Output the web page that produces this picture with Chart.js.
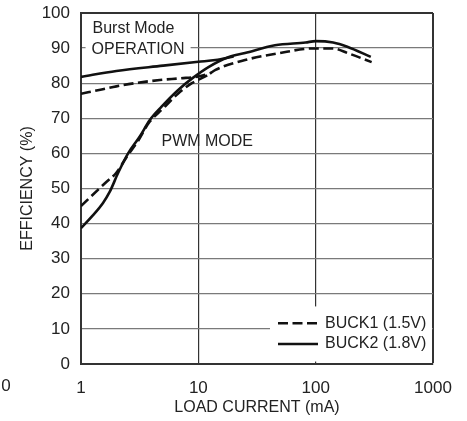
<!DOCTYPE html>
<html>
<head>
<meta charset="utf-8">
<script src="https://cdn.jsdelivr.net/npm/chart.js@4"></script>
<style>
html,body{margin:0;padding:0;background:#fff;}
#wrap{width:467px;height:421px;}
</style>
</head>
<body>
<div id="wrap"><canvas id="c" width="467" height="421"></canvas></div>
<script>
const xTicks = [1, 10, 100, 1000];
const yTicks = [0, 10, 20, 30, 40, 50, 60, 70, 80, 90, 100];

const buck1BurstX = [1, 1.5, 2, 3, 4.7, 7, 10, 13];
const buck1BurstY = [77, 78.2, 79.1, 80.1, 80.9, 81.4, 81.9, 83];
const buck1PwmX = [1, 1.6, 2, 2.45, 3.1, 3.75, 5, 6.7, 8.8, 12, 14, 25, 48, 95, 140, 190, 300];
const buck1PwmY = [45, 51.5, 54.5, 59, 63.8, 68.5, 72.8, 77, 80, 82.3, 83.8, 86.6, 88.5, 89.9, 89.9, 88.5, 86];
const buck2BurstX = [1, 2, 5, 10, 14, 20];
const buck2BurstY = [81.8, 83.5, 85, 86.1, 86.6, 87.6];
const buck2PwmX = [1, 1.25, 1.54, 1.76, 2.07, 2.52, 3.17, 3.86, 4.86, 6.7, 8.8, 12.2, 18, 25, 45, 82, 100, 141, 186, 295];
const buck2PwmY = [38.7, 42.2, 45.9, 49.1, 54.4, 60, 64.8, 69.5, 73.3, 78, 81.3, 84.6, 87.4, 88.6, 90.8, 91.6, 92, 91.6, 90.4, 87.5];

const legendLabels = ['BUCK1 (1.5V)', 'BUCK2 (1.8V)'];
const burstText = ['Burst Mode', 'OPERATION'];
const pwmText = 'PWM MODE';
const strayTick = '0';

const FONT = '"Liberation Sans", Arial, sans-serif';
const FS = 16;
const FT = 17;

function pts(xs, ys) { return xs.map((x, i) => ({x: x, y: ys[i]})); }

const dashedStyle = {borderColor: '#111', borderWidth: 2.6, borderDash: [10, 4.5], pointRadius: 0, fill: false, cubicInterpolationMode: 'monotone'};
const solidStyle = {borderColor: '#111', borderWidth: 2.6, pointRadius: 0, fill: false, cubicInterpolationMode: 'monotone'};

const overlay = {
  id: 'overlay',
  beforeDatasetsDraw(chart) {
    const ctx = chart.ctx, a = chart.chartArea;
    const xs = chart.scales.x, ys = chart.scales.y;
    ctx.save();
    ctx.font = FS + 'px ' + FONT;
    ctx.textBaseline = 'middle';
    ctx.textAlign = 'left';
    const bx = xs.getPixelForValue(1.23);
    const y1 = ys.getPixelForValue(95.6), y2 = ys.getPixelForValue(89.6);
    const w2 = ctx.measureText(burstText[1]).width;
    ctx.fillStyle = '#fff';
    ctx.fillRect(bx - 6, y2 - 9, w2 + 12, 18);
    ctx.fillStyle = '#222';
    ctx.fillText(burstText[0], bx + 1, y1);
    ctx.fillText(burstText[1], bx, y2);
    ctx.fillText(pwmText, xs.getPixelForValue(4.85), ys.getPixelForValue(63.3));
    ctx.restore();
  },
  afterDraw(chart) {
    const ctx = chart.ctx, a = chart.chartArea;
    const ys = chart.scales.y;
    ctx.save();
    const top = ys.getPixelForValue(16.4), bot = ys.getPixelForValue(0.7);
    const left = a.right - 163;
    ctx.fillStyle = '#fff';
    ctx.fillRect(left, top, a.right - left - 1, bot - top);
    ctx.font = FS + 'px ' + FONT;
    ctx.textBaseline = 'middle';
    ctx.textAlign = 'left';
    const rows = [ys.getPixelForValue(11.6), ys.getPixelForValue(5.7)];
    ctx.strokeStyle = '#111';
    ctx.lineWidth = 2.6;
    ctx.setLineDash([10, 4.5]);
    ctx.beginPath(); ctx.moveTo(left + 8, rows[0]); ctx.lineTo(left + 48, rows[0]); ctx.stroke();
    ctx.setLineDash([]);
    ctx.beginPath(); ctx.moveTo(left + 8, rows[1]); ctx.lineTo(left + 48, rows[1]); ctx.stroke();
    ctx.fillStyle = '#222';
    ctx.fillText(legendLabels[0], left + 55, rows[0]);
    ctx.fillText(legendLabels[1], left + 55, rows[1]);
    ctx.font = FT + 'px ' + FONT;
    ctx.textAlign = 'center';
    ctx.fillText(strayTick, 6, a.bottom + 22);
    ctx.restore();
  }
};

new Chart(document.getElementById('c'), {
  type: 'line',
  data: {
    datasets: [
      Object.assign({label: legendLabels[0] + ' burst', data: pts(buck1BurstX, buck1BurstY)}, dashedStyle),
      Object.assign({label: legendLabels[0], data: pts(buck1PwmX, buck1PwmY)}, dashedStyle),
      Object.assign({label: legendLabels[1] + ' burst', data: pts(buck2BurstX, buck2BurstY)}, solidStyle),
      Object.assign({label: legendLabels[1], data: pts(buck2PwmX, buck2PwmY)}, solidStyle)
    ]
  },
  options: {
    responsive: false,
    animation: false,
    devicePixelRatio: 1,
    layout: {padding: {top: 13, right: 34, left: 0, bottom: 0}},
    plugins: {legend: {display: false}, tooltip: {enabled: false}},
    scales: {
      x: {
        type: 'logarithmic',
        min: 1, max: 1000,
        afterBuildTicks(s) { s.ticks = xTicks.map(v => ({value: v})); },
        afterFit(s) { s.height = 57; s.paddingLeft = 0; s.paddingRight = 0; },
        ticks: {
          color: '#222', font: {family: FONT, size: FT}, padding: 14, maxRotation: 0,
          callback: v => String(v)
        },
        grid: {
          drawTicks: false,
          color: ctx => (ctx.index === 0 ? 'rgba(0,0,0,0)' : '#333'),
          lineWidth: ctx => (ctx.index === xTicks.length - 1 ? 2 : 1.2)
        },
        border: {display: true, color: '#333', width: 2},
        title: {display: true, text: 'LOAD CURRENT (mA)', color: '#222', font: {family: FONT, size: FS}, padding: {top: 0, bottom: 4}}
      },
      y: {
        min: 0, max: 100,
        afterBuildTicks(s) { s.ticks = yTicks.map(v => ({value: v})); },
        afterFit(s) { s.width = 81; s.paddingTop = 0; s.paddingBottom = 0; },
        ticks: {color: '#222', font: {family: FONT, size: FT}, padding: 11},
        grid: {
          drawTicks: false,
          color: ctx => (ctx.index === yTicks.length - 1 ? '#333' : (ctx.index === 0 ? 'rgba(0,0,0,0)' : '#7a7a7a')),
          lineWidth: ctx => (ctx.index === yTicks.length - 1 ? 2 : 1.2)
        },
        border: {display: true, color: '#333', width: 2},
        title: {display: true, text: 'EFFICIENCY (%)', color: '#222', font: {family: FONT, size: FS}, padding: {top: 18, bottom: 0}}
      }
    }
  },
  plugins: [overlay]
});
</script>
</body>
</html>
